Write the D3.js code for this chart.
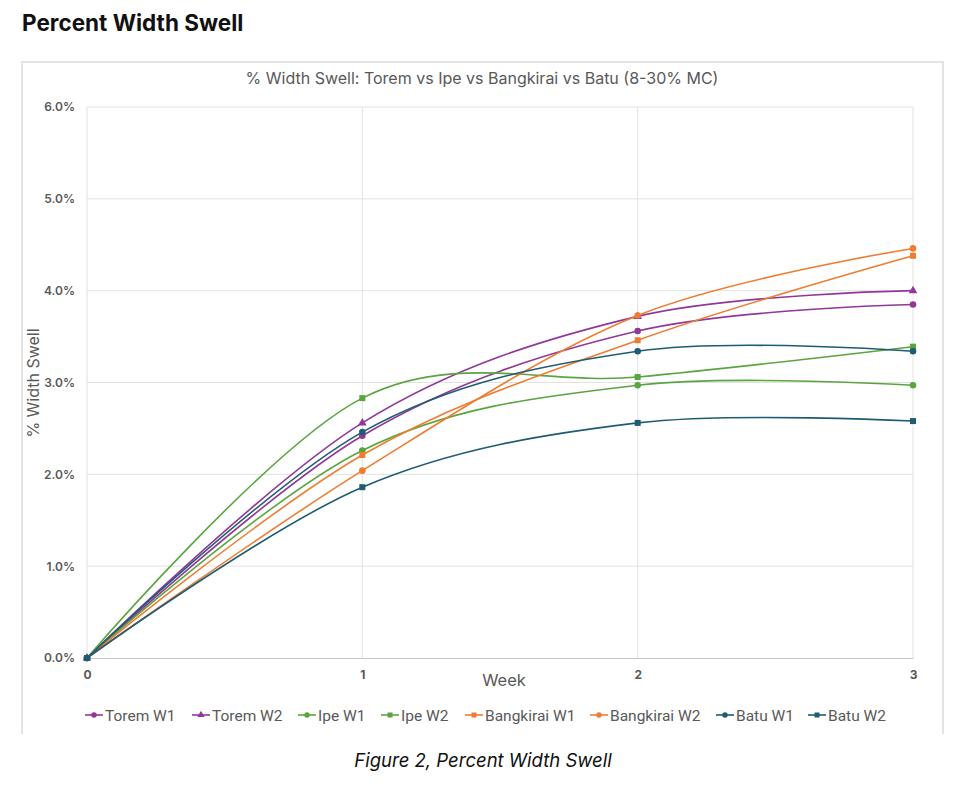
<!DOCTYPE html>
<html>
<head>
<meta charset="utf-8">
<script src="https://cdn.jsdelivr.net/npm/d3@7"></script>
<style>
  body { margin: 0; background: #fff; font-family: Inter, "Noto Sans", sans-serif; }
  svg { display: block; }
</style>
</head>
<body>
<svg id="main"></svg>
<script>
// data (percent width swell per week)
var weeks = [0, 1, 2, 3];
var yTicks = [0, 1, 2, 3, 4, 5, 6];
var seriesNames = ["Torem W1", "Torem W2", "Ipe W1", "Ipe W2", "Bangkirai W1", "Bangkirai W2", "Batu W1", "Batu W2"];
var toremW1 = [0, 2.42, 3.56, 3.85];
var toremW2 = [0, 2.56, 3.72, 4.00];
var ipeW1 = [0, 2.26, 2.97, 2.97];
var ipeW2 = [0, 2.83, 3.06, 3.39];
var bangkiraiW1 = [0, 2.21, 3.46, 4.38];
var bangkiraiW2 = [0, 2.04, 3.73, 4.46];
var batuW1 = [0, 2.46, 3.34, 3.34];
var batuW2 = [0, 1.86, 2.56, 2.58];

var colors = ["#92379a", "#92379a", "#5aa540", "#5aa540", "#ee7d31", "#ee7d31", "#1f5c72", "#1f5c72"];
var markers = ["circle", "triangle", "circle", "square", "square", "circle", "circle", "square"];
var values = [toremW1, toremW2, ipeW1, ipeW2, bangkiraiW1, bangkiraiW2, batuW1, batuW2];

var W = 964, H = 790;
var svg = d3.select("#main").attr("width", W).attr("height", H);

// page heading + chart frame
svg.append("text").attr("x", 22).attr("y", 31)
   .attr("font-size", 22.5).attr("font-weight", 700).attr("fill", "#111")
   .text("Percent Width Swell");

svg.append("path")
   .attr("d", "M22,734V62H943V734")
   .attr("fill", "none").attr("stroke", "#e3e3e3").attr("stroke-width", 2);

svg.append("text").attr("x", 482).attr("y", 84).attr("text-anchor", "middle")
   .attr("font-size", 16).attr("fill", "#595959")
   .text("% Width Swell: Torem vs Ipe vs Bangkirai vs Batu (8-30% MC)");

var x = d3.scaleLinear().domain([0, 3]).range([87, 913]);
var y = d3.scaleLinear().domain([0, 6]).range([658, 107]);

// grid
var grid = svg.append("g");
grid.selectAll(".h").data(yTicks.slice(1)).enter().append("line")
    .attr("x1", x(0)).attr("x2", x(3))
    .attr("y1", d => y(d)).attr("y2", d => y(d))
    .attr("stroke", "#e2e2e2");
grid.selectAll(".v").data(weeks).enter().append("line")
    .attr("x1", d => x(d)).attr("x2", d => x(d))
    .attr("y1", y(6)).attr("y2", y(0))
    .attr("stroke", "#e2e2e2");

// axes
var yAxis = svg.append("g").attr("transform", "translate(" + x(0) + ",0)")
    .call(d3.axisLeft(y).tickValues(yTicks).tickSize(0).tickPadding(12)
        .tickFormat(d => d.toFixed(1) + "%"));
yAxis.select(".domain").remove();
yAxis.selectAll("text").attr("font-family", "Inter, sans-serif").attr("font-size", 12)
    .attr("font-weight", 600).attr("fill", "#595959");

var xAxis = svg.append("g").attr("transform", "translate(0," + y(0) + ")")
    .call(d3.axisBottom(x).tickValues(weeks).tickSize(0).tickPadding(12).tickFormat(d3.format("d")));
xAxis.select(".domain").attr("stroke", "#c8c8c8");
xAxis.selectAll("text").attr("font-family", "Inter, sans-serif").attr("font-size", 12)
    .attr("font-weight", 700).attr("fill", "#595959");

svg.append("text").attr("x", 504).attr("y", 686).attr("text-anchor", "middle")
   .attr("font-size", 16.5).attr("fill", "#595959").text("Week");
svg.append("text").attr("transform", "translate(39,383) rotate(-90)").attr("text-anchor", "middle")
   .attr("font-size", 16).attr("fill", "#595959").text("% Width Swell");

// marker helper
function marker(g, type, cx, cy, color, s) {
    if (type === "circle") {
        g.append("circle").attr("cx", cx).attr("cy", cy).attr("r", s * 0.55).attr("fill", color);
    } else if (type === "square") {
        g.append("rect").attr("x", cx - s / 2).attr("y", cy - s / 2)
         .attr("width", s).attr("height", s).attr("fill", color);
    } else {
        g.append("path").attr("d", d3.symbol(d3.symbolTriangle, s * s * 0.9)())
         .attr("transform", "translate(" + cx + "," + cy + ")").attr("fill", color);
    }
}

var line = d3.line().x((d, i) => x(weeks[i])).y(d => y(d)).curve(d3.curveCardinal.tension(0));

var plot = svg.append("g");
values.forEach(function (vals, k) {
    var g = plot.append("g");
    g.append("path").datum(vals).attr("d", line)
     .attr("fill", "none").attr("stroke", colors[k]).attr("stroke-width", 1.6);
    vals.forEach(function (v, i) { marker(g, markers[k], x(weeks[i]), y(v), colors[k], 6); });
});

// legend
var legendX = [85, 192, 298, 381, 465, 590, 716, 808];
var legend = svg.append("g");
seriesNames.forEach(function (name, k) {
    var g = legend.append("g").attr("transform", "translate(" + legendX[k] + ",715)");
    g.append("line").attr("x1", 0).attr("x2", 18).attr("stroke", colors[k]).attr("stroke-width", 1.6);
    marker(g, markers[k], 9, 0, colors[k], 5);
    g.append("text").attr("x", 20).attr("y", 5.5).attr("font-size", 15.5)
     .attr("font-family", "Roboto, sans-serif").attr("fill", "#595959").text(name);
});

// caption
svg.append("text").attr("x", 483).attr("y", 767).attr("text-anchor", "middle")
   .attr("font-size", 18.5).attr("font-style", "italic").attr("fill", "#111")
   .text("Figure 2, Percent Width Swell");
</script>
</body>
</html>
